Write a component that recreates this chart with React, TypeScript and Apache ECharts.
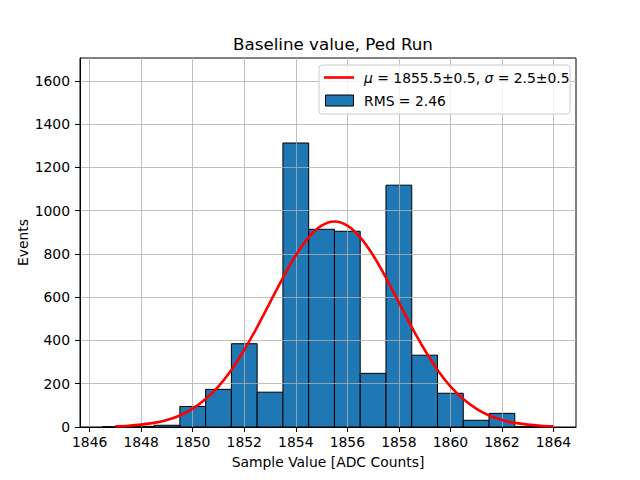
import React, { useEffect, useRef } from "react";
import * as echarts from "echarts";

// Histogram bins (centres) and counts
const binCenters = [1847, 1848, 1849, 1850, 1851, 1852, 1853, 1854, 1855, 1856, 1857, 1858, 1859, 1860, 1861, 1862, 1863];
const binCounts = [1, 3, 8, 95, 174, 385, 161, 1313, 914, 905, 248, 1118, 332, 156, 31, 63, 1];
const BIN_WIDTH = 1;

const curveX = [
  1847, 1847.5, 1848, 1848.5, 1849, 1849.5, 1850, 1850.5, 1851, 1851.5, 1852, 1852.5,
  1853, 1853.5, 1854, 1854.5, 1855, 1855.5, 1856, 1856.5, 1857, 1857.5, 1858, 1858.5,
  1859, 1859.5, 1860, 1860.5, 1861, 1861.5, 1862, 1862.5, 1863, 1863.5, 1864,
];
const curveY = [
  3, 6, 11, 19, 32, 53, 85, 129, 188, 264, 357, 462,
  576, 690, 794, 877, 931, 950, 931, 877, 794, 690, 576, 462,
  357, 264, 188, 129, 85, 53, 32, 19, 11, 6, 3,
];

const xTicks = [1846, 1848, 1850, 1852, 1854, 1856, 1858, 1860, 1862, 1864];
const yTicks = [0, 200, 400, 600, 800, 1000, 1200, 1400, 1600];

const TITLE = "Baseline value, Ped Run";
const X_NAME = "Sample Value [ADC Counts]";
const Y_NAME = "Events";
const FIT_LABEL = "{i|μ} = 1855.5±0.5, {i|σ} = 2.5±0.5";
const RMS_LABEL = "RMS = 2.46";

const FONT = "DejaVu Sans";
const GRID_COLOR = "#b0b0b0";

export default function App() {
  const ref = useRef<HTMLDivElement>(null);
  useEffect(() => {
    if (!ref.current) return;
    const chart = echarts.init(ref.current, null, { renderer: "svg" });
    const histData = binCenters.map((c, i) => [c, binCounts[i]]);
    const curveData = curveX.map((x, i) => [x, curveY[i]]);
    chart.setOption({
      animation: false,
      backgroundColor: "#ffffff",
      textStyle: { fontFamily: FONT },
      grid: {
        left: 80,
        right: 64,
        top: 58,
        bottom: 53,
        show: true,
        borderColor: "#000",
        borderWidth: 1,
        backgroundColor: "transparent",
      },
      xAxis: {
        type: "value",
        min: 1845.625,
        max: 1864.875,
        z: 3,
        name: X_NAME,
        nameLocation: "middle",
        nameGap: 28,
        nameTextStyle: { fontFamily: FONT, fontSize: 13.9, color: "#000" },
        axisLine: { show: true, onZero: false, lineStyle: { color: "#000", width: 1 } },
        axisTick: { show: true, length: 5, customValues: xTicks, lineStyle: { color: "#000", width: 1 } },
        axisLabel: {
          customValues: xTicks,
          margin: 8,
          fontFamily: FONT,
          fontSize: 13.9,
          color: "#000",
          formatter: (v: number) => String(v),
        },
        splitLine: { show: false },
      },
      yAxis: {
        type: "value",
        min: 0,
        max: 1706,
        z: 3,
        name: Y_NAME,
        nameLocation: "middle",
        nameGap: 50,
        nameMoveOverlap: false,
        nameTextStyle: { fontFamily: FONT, fontSize: 13.9, color: "#000" },
        axisLine: { show: true, lineStyle: { color: "#000", width: 1 } },
        axisTick: { show: true, length: 5, customValues: yTicks, lineStyle: { color: "#000", width: 1 } },
        axisLabel: {
          customValues: yTicks,
          margin: 10,
          fontFamily: FONT,
          fontSize: 13.9,
          color: "#000",
          formatter: (v: number) => String(v),
        },
        splitLine: { show: false },
      },
      title: {
        text: TITLE,
        left: 328,
        top: 30,
        textAlign: "center",
        textStyle: { fontFamily: FONT, fontSize: 16.7, fontWeight: "normal", color: "#000" },
      },
      series: [
        {
          type: "custom",
          name: RMS_LABEL,
          z: 1,
          data: histData,
          renderItem: (params: any, api: any) => {
            const x = api.value(0);
            const y = api.value(1);
            const p0 = api.coord([x - BIN_WIDTH / 2, y]);
            const p1 = api.coord([x + BIN_WIDTH / 2, 0]);
            return {
              type: "rect",
              shape: { x: p0[0], y: p0[1], width: p1[0] - p0[0], height: p1[1] - p0[1] },
              style: { fill: "#1f77b4", stroke: "#000", lineWidth: 1 },
            };
          },
          markLine: {
            z: 3,
            silent: true,
            symbol: ["none", "none"],
            label: { show: false },
            emphasis: { disabled: true },
            lineStyle: { color: GRID_COLOR, width: 0.8, type: "solid" },
            data: [
              ...xTicks.map((v) => ({ xAxis: v })),
              ...yTicks.slice(1).map((v) => ({ yAxis: v })),
            ],
          },
        },
        {
          type: "line",
          name: "fit",
          z: 6,
          data: curveData,
          smooth: 0.3,
          showSymbol: false,
          symbol: "none",
          lineStyle: { color: "#ff0000", width: 2.6 },
        },
      ],
      graphic: [
        {
          type: "rect",
          z: 10,
          shape: { x: 319, y: 65, width: 251, height: 49, r: 3 },
          style: { fill: "rgba(255,255,255,0.8)", stroke: "#cccccc", lineWidth: 1 },
        },
        {
          type: "line",
          z: 11,
          shape: { x1: 324, y1: 77.5, x2: 354, y2: 77.5 },
          style: { stroke: "#ff0000", lineWidth: 2.6 },
        },
        {
          type: "text",
          z: 11,
          x: 364,
          y: 77.5,
          style: {
            text: FIT_LABEL,
            fontFamily: FONT,
            fontSize: 13.9,
            fill: "#000",
            verticalAlign: "middle",
            rich: { i: { fontStyle: "italic", fontFamily: FONT, fontSize: 13.9 } },
          },
        },
        {
          type: "rect",
          z: 11,
          shape: { x: 325.5, y: 95, width: 28, height: 11 },
          style: { fill: "#1f77b4", stroke: "#000", lineWidth: 1 },
        },
        {
          type: "text",
          z: 11,
          x: 364,
          y: 100.5,
          style: {
            text: RMS_LABEL,
            fontFamily: FONT,
            fontSize: 13.9,
            fill: "#000",
            verticalAlign: "middle",
          },
        },
      ],
    });
    return () => chart.dispose();
  }, []);
  return <div ref={ref} style={{ position: "absolute", left: 0, top: 0, width: 640, height: 480 }} />;
}
